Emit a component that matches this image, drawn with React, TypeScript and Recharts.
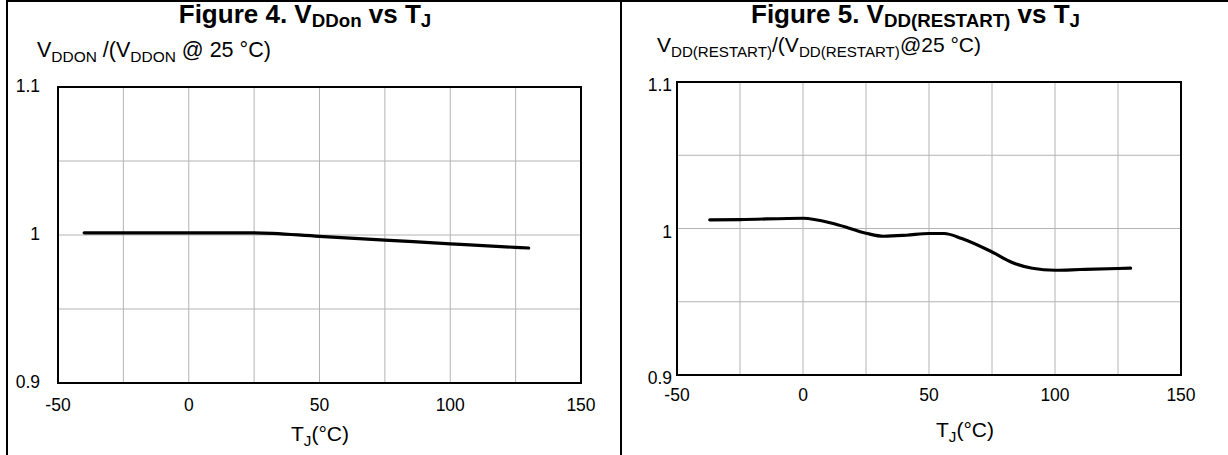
import { LineChart, Line, XAxis, YAxis, CartesianGrid, ReferenceArea } from 'recharts'

// Figure 4: VDDon / VDDon@25°C
const tempsOn = [-40, 0, 25, 50, 75, 100, 125, 130]
const ratioOn = [1.0015, 1.0015, 1.0015, 0.9991, 0.9966, 0.994, 0.9916, 0.9912]

// Figure 5: VDD(RESTART) / VDD(RESTART)@25°C
const tempsRestart = [-37, -25, 0, 13, 25, 32, 41, 50, 56, 63, 75, 83, 91, 100, 110, 125, 130]
const ratioRestart = [
	1.0059, 1.0061, 1.007, 1.0029, 0.9968, 0.9947, 0.9954, 0.9966, 0.9966, 0.9932, 0.984,
	0.9768, 0.9729, 0.9715, 0.972, 0.9727, 0.9729,
]

const xTicks = [-50, 0, 50, 100, 150]
const xGrid = [-25, 0, 25, 50, 75, 100, 125]
const yTicks = [0.9, 1, 1.1]
const yGrid = [0.95, 1, 1.05]

const FONT = '"Liberation Sans", Arial, sans-serif'

const dataOn = tempsOn.map((t, i) => ({ t, v: ratioOn[i] }))
const dataRestart = tempsRestart.map((t, i) => ({ t, v: ratioRestart[i] }))

const sub = { fontSize: '72%', position: 'relative', top: '0.3em' } as const
const titleSub = { fontSize: '72%', position: 'relative', top: '0.22em' } as const

interface PanelProps {
	data: { t: number; v: number }[]
	margin: { top: number; right: number; bottom: number; left: number }
	yMargin: number
	xMargin: number
	yDy: number
}

function Panel({ data, margin, yMargin, xMargin, yDy }: PanelProps) {
	const tick = { fill: '#000', fontSize: 17.5, fontFamily: FONT }
	return (
		<LineChart width={614} height={455} data={data} margin={margin}>
			<CartesianGrid
				stroke='#b4b4b4'
				strokeWidth={1}
				horizontalValues={yGrid}
				verticalValues={xGrid}
			/>
			<XAxis
				dataKey='t'
				type='number'
				domain={[-50, 150]}
				ticks={xTicks}
				height={40}
				axisLine={false}
				tickLine={false}
				tickSize={0}
				tickMargin={xMargin}
				tick={tick}
				interval={0}
			/>
			<YAxis
				type='number'
				domain={[0.9, 1.1]}
				ticks={yTicks}
				width={40}
				axisLine={false}
				tickLine={false}
				tickSize={0}
				tickMargin={yMargin}
				tick={{ ...tick, dy: yDy }}
				interval={0}
			/>
			<ReferenceArea
				x1={-50}
				x2={150}
				y1={0.9}
				y2={1.1}
				fill='none'
				stroke='#000'
				strokeWidth={2}
				ifOverflow='visible'
			/>
			<Line
				type='monotone'
				dataKey='v'
				stroke='#000'
				strokeWidth={3.2}
				strokeLinecap='round'
				dot={false}
				activeDot={false}
				isAnimationActive={false}
			/>
		</LineChart>
	)
}

export default function App() {
	return (
		<div
			style={{
				position: 'absolute',
				left: 0,
				top: 0,
				width: 1228,
				height: 455,
				background: '#fff',
				fontFamily: FONT,
				color: '#000',
				overflow: 'hidden',
			}}
		>
			{/* frame lines */}
			<div style={{ position: 'absolute', left: 6, top: 0, width: 1222, height: 2, background: '#000' }} />
			<div style={{ position: 'absolute', left: 6, top: 0, width: 2, height: 455, background: '#000' }} />
			<div style={{ position: 'absolute', left: 620, top: 0, width: 2, height: 455, background: '#000' }} />

			<div style={{ position: 'absolute', left: 0, top: 0 }}>
				<Panel
					data={dataOn}
					margin={{ top: 87, right: 33, bottom: 32, left: 18 }}
					yMargin={18}
					xMargin={16}
					yDy={-1}
				/>
			</div>
			<div style={{ position: 'absolute', left: 614, top: 0 }}>
				<Panel
					data={dataRestart}
					margin={{ top: 82, right: 47, bottom: 40, left: 23 }}
					yMargin={5}
					xMargin={14}
					yDy={3}
				/>
			</div>

			{/* titles */}
			<div
				style={{
					position: 'absolute',
					left: -2,
					width: 614,
					top: 0,
					lineHeight: '28px',
					textAlign: 'center',
					fontWeight: 'bold',
					fontSize: 26,
					whiteSpace: 'nowrap',
				}}
			>
				Figure 4. V<span style={titleSub}>DDon</span> vs T<span style={titleSub}>J</span>
			</div>
			<div
				style={{
					position: 'absolute',
					left: 612,
					width: 607,
					top: 0,
					lineHeight: '28px',
					textAlign: 'center',
					fontWeight: 'bold',
					fontSize: 26,
					whiteSpace: 'nowrap',
				}}
			>
				Figure 5. V<span style={titleSub}>DD(RESTART)</span> vs T<span style={titleSub}>J</span>
			</div>

			{/* y captions */}
			<div style={{ position: 'absolute', left: 37, top: 38, fontSize: 21.5, whiteSpace: 'nowrap' }}>
				V<span style={sub}>DDON</span> /(V<span style={sub}>DDON</span> @ 25 °C)
			</div>
			<div style={{ position: 'absolute', left: 657, top: 33, fontSize: 21, whiteSpace: 'nowrap' }}>
				V<span style={sub}>DD(RESTART)</span>/(V<span style={sub}>DD(RESTART)</span>@25 °C)
			</div>

			{/* x captions */}
			<div
				style={{
					position: 'absolute',
					left: 220,
					width: 200,
					top: 422,
					textAlign: 'center',
					fontSize: 21,
					whiteSpace: 'nowrap',
				}}
			>
				T<span style={sub}>J</span>(°C)
			</div>
			<div
				style={{
					position: 'absolute',
					left: 865,
					width: 200,
					top: 418,
					textAlign: 'center',
					fontSize: 21,
					whiteSpace: 'nowrap',
				}}
			>
				T<span style={sub}>J</span>(°C)
			</div>
		</div>
	)
}
